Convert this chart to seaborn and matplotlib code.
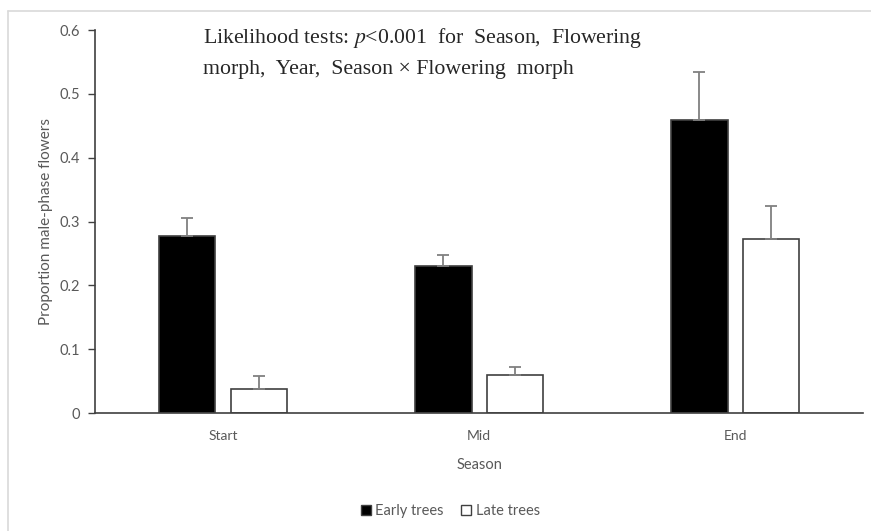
import numpy as np
import pandas as pd
import matplotlib.pyplot as plt
from matplotlib.lines import Line2D
from matplotlib.patches import Patch
import seaborn as sns

# Chart values
seasons = ['Start', 'Mid', 'End']
groups = ['Early trees', 'Late trees']
early_mean = [0.277, 0.231, 0.459]
late_mean = [0.038, 0.059, 0.272]
early_se = [0.028, 0.017, 0.075]
late_se = [0.020, 0.013, 0.053]
y_ticks = [0, 0.1, 0.2, 0.3, 0.4, 0.5, 0.6]
y_tick_labels = ['0', '0.1', '0.2', '0.3', '0.4', '0.5', '0.6']

df = pd.DataFrame({
    'Season': seasons * 2,
    'Group': [groups[0]] * 3 + [groups[1]] * 3,
    'mean': early_mean + late_mean,
    'se': early_se + late_se,
})

sns.set_style('white')
plt.rcParams['font.family'] = ['Lato', 'DejaVu Sans']

fig = plt.figure(figsize=(8.71, 5.31), dpi=100)
ax = fig.add_axes([0.109, 0.222, 0.882, 0.7215])

sns.barplot(data=df, x='Season', y='mean', hue='Group', order=seasons,
            hue_order=groups, palette=['black', 'white'], width=0.56, gap=0.21,
            errorbar=None, edgecolor='#404040', linewidth=1.2, legend=False, ax=ax)

# upper-only error bars, positioned from the drawn bars
for cont, g in zip(ax.containers, groups):
    sub = df[df['Group'] == g].set_index('Season').loc[seasons]
    xs = [p.get_x() + p.get_width() / 2 for p in cont.patches]
    ax.errorbar(xs, sub['mean'], yerr=[np.zeros(len(xs)), sub['se']],
                fmt='none', ecolor='#808080', elinewidth=1.3, capsize=4,
                capthick=1.3, zorder=1)

ax.set_xlim(-0.5, 2.5)
ax.set_ylim(0, 0.6)
ax.set_yticks(y_ticks)
ax.set_yticklabels(y_tick_labels)
for s in ['top', 'right']:
    ax.spines[s].set_visible(False)
for s in ['left', 'bottom']:
    ax.spines[s].set_color('#404040')
    ax.spines[s].set_linewidth(1.2)
ax.tick_params(axis='y', left=True, length=5, width=1, color='#404040',
               labelsize=10.5, labelcolor='#595959', pad=6)
ax.tick_params(axis='x', bottom=False, labelsize=10, labelcolor='#595959', pad=9)
ax.set_xlabel('Season', fontsize=10.5, color='#595959', labelpad=11)
ax.set_ylabel('Proportion male-phase flowers', fontsize=11, color='#595959', labelpad=4)

ax.text(0.141, 0.966, 'Likelihood tests: $p$<0.001  for  Season,  Flowering',
        transform=ax.transAxes, family='Liberation Serif', fontsize=15.7,
        va='baseline', math_fontfamily='stix')
ax.text(0.141, 0.885, 'morph,  Year,  Season \u00d7 Flowering  morph',
        transform=ax.transAxes, family='Liberation Serif', fontsize=15.7,
        va='baseline')

handles = [Patch(facecolor='black', edgecolor='#404040', label=groups[0]),
           Patch(facecolor='white', edgecolor='#404040', label=groups[1])]
fig.legend(handles=handles, loc='center', bbox_to_anchor=(0.517, 0.038), ncol=2,
           frameon=False, fontsize=10.5, labelcolor='#595959', handlelength=0.7,
           handleheight=0.7, handletextpad=0.3, columnspacing=1.2)

# light frame lines at top and left like the reference
fig.add_artist(Line2D([8 / 871, 1], [1 - 11 / 531] * 2, color='#d9d9d9', lw=1.2))
fig.add_artist(Line2D([8 / 871] * 2, [0, 1 - 11 / 531], color='#d9d9d9', lw=1.2))

plt.savefig('out.png', dpi=100)
